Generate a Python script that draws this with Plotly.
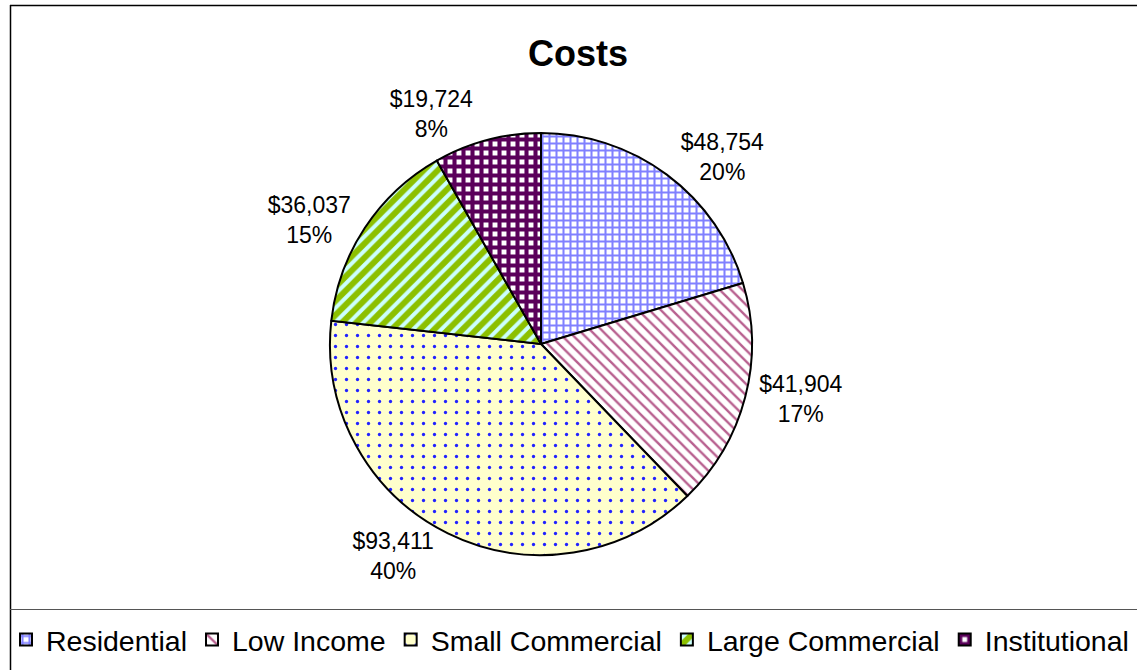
import plotly.graph_objects as go

# Cost breakdown by customer segment
categories = ["Residential", "Low Income", "Small Commercial", "Large Commercial", "Institutional"]
costs = [48754, 41904, 93411, 36037, 19724]
pct_labels = ["20%", "17%", "40%", "15%", "8%"]

fill_bg = ["#FFFFFF", "#FFFFFF", "#FFFFCC", "#CCFFFF", "#FFFFFF"]
fill_fg = ["#8080FF", "#B8608F", "#2222FF", "#8CC000", "#5A005A"]
shapes_ = ["+", "\\", ".", "/", "+"]
sizes = [7, 8, 11, 10, 9]
solid = [0.5, 0.3, 0.07, 0.6, 0.7]

W, H = 1137, 670
FONT = "Liberation Sans, Arial"

fig = go.Figure(
    go.Pie(
        labels=categories,
        values=costs,
        customdata=pct_labels,
        texttemplate="$%{value:,}<br>%{customdata}",
        textposition="outside",
        textfont=dict(family=FONT, size=23, color="black"),
        sort=False,
        direction="clockwise",
        rotation=0,
        hole=0,
        marker=dict(
            colors=fill_bg,
            line=dict(color="black", width=2),
            pattern=dict(shape=shapes_, fgcolor=fill_fg, bgcolor=fill_bg,
                         size=sizes, solidity=solid, fgopacity=1, fillmode="overlay"),
        ),
        domain=dict(x=[330 / W, 752 / W], y=[1 - 555 / H, 1 - 133 / H]),
        showlegend=True,
    )
)

frame = dict(color="black", width=1.5)
fig.update_layout(
    width=W,
    height=H,
    margin=dict(l=0, r=0, t=0, b=0),
    paper_bgcolor="white",
    plot_bgcolor="white",
    font=dict(family=FONT, color="black"),
    title=dict(text="<b>Costs</b>", x=578 / W, xanchor="center", y=1 - 53 / H, yanchor="middle",
               font=dict(size=36, family=FONT, color="black")),
    legend=dict(orientation="h", x=6 / W, xanchor="left", y=1 - 640 / H, yanchor="middle",
                font=dict(size=28.5, family=FONT, color="black"),
                itemwidth=30, tracegroupgap=0, bgcolor="rgba(0,0,0,0)"),
    shapes=[
        dict(type="line", xref="paper", yref="paper", x0=10 / W, x1=1.01, y0=1 - 5.5 / H, y1=1 - 5.5 / H, line=frame),
        dict(type="line", xref="paper", yref="paper", x0=10.5 / W, x1=10.5 / W, y0=-0.01, y1=1 - 5 / H, line=frame),
        dict(type="line", xref="paper", yref="paper", x0=10 / W, x1=1.01, y0=1 - 609.5 / H, y1=1 - 609.5 / H,
             line=dict(color="#555555", width=1.2)),
    ],
)

fig.write_html("out.html")
